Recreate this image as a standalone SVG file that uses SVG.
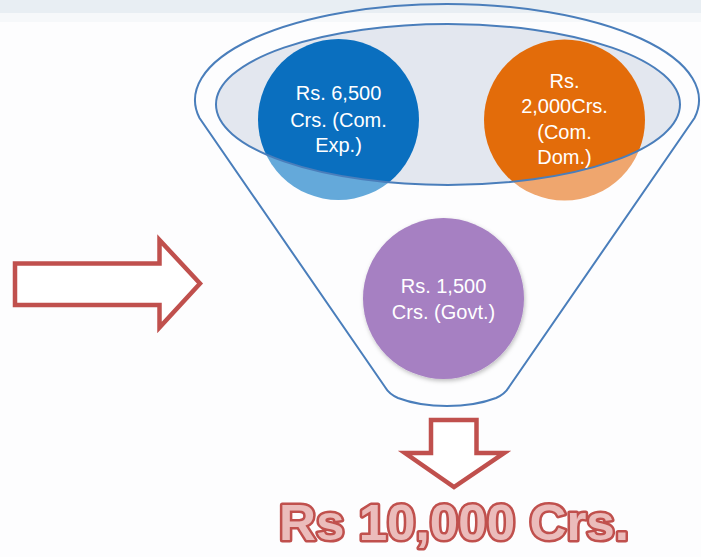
<svg xmlns="http://www.w3.org/2000/svg" width="701" height="557" viewBox="0 0 701 557">
<style>
.lbl{font-family:"Liberation Sans",Arial,sans-serif;font-size:20px;fill:#ffffff;text-anchor:middle}
.arrow{fill:#ffffff;stroke:#c0504d;stroke-width:4.5;stroke-linejoin:miter}
.funnel{fill:none;stroke:#4a7ebb;stroke-width:2}
.total{font-family:"Liberation Sans",Arial,sans-serif;font-weight:bold;font-size:50px;fill:#ebbcbb;stroke:#c0504d;stroke-width:5;paint-order:stroke;stroke-linejoin:round;text-anchor:middle}
</style>
<defs>
<clipPath id="inner"><ellipse cx="448" cy="104.5" rx="232" ry="80.5"/></clipPath>
<filter id="sh" x="-20%" y="-20%" width="140%" height="140%"><feDropShadow dx="1" dy="2" stdDeviation="2" flood-color="#000" flood-opacity="0.25"/></filter>
</defs>
<rect x="0" y="0" width="701" height="557" fill="#fdfdfe"/>
<rect x="0" y="0" width="701" height="13" fill="#e8eef3"/>
<rect x="0" y="13" width="701" height="9" fill="#f6f8fa"/>

<g id="funnel">
<path class="funnel" d="M199.5,118 A252,96 0 1,1 694.5,118 L509,387 Q505,394 496,398 Q475,406 447,406 Q419,406 398,398 Q389,394 385,387 Z"/>
</g>

<g id="circle-exp">
<circle cx="338.5" cy="119.5" r="80.5" fill="#64a9da"/>
</g>
<g id="circle-dom">
<circle cx="564.5" cy="120" r="80.5" fill="#efa66e"/>
</g>
<g id="inner-ellipse">
<ellipse cx="448" cy="104.5" rx="232" ry="80.5" fill="#e3e7ef"/>
<g clip-path="url(#inner)">
<circle cx="338.5" cy="119.5" r="80.5" fill="#0a6fbf"/>
<circle cx="564.5" cy="120" r="80.5" fill="#e36c0a"/>
</g>
<ellipse cx="448" cy="104.5" rx="232" ry="80.5" fill="none" stroke="#4a7ebb" stroke-width="2"/>
</g>
<g id="label-exp">
<text class="lbl" x="338.5" y="100">Rs. 6,500</text>
<text class="lbl" x="338.5" y="126.5">Crs. (Com.</text>
<text class="lbl" x="338.5" y="152">Exp.)</text>
</g>
<g id="label-dom">
<text class="lbl" x="564.5" y="87.5">Rs.</text>
<text class="lbl" x="564.5" y="113">2,000Crs.</text>
<text class="lbl" x="564.5" y="138.5">(Com.</text>
<text class="lbl" x="564.5" y="164">Dom.)</text>
</g>
<g id="circle-govt">
<circle cx="443.5" cy="298.5" r="80.5" fill="#a680c2" filter="url(#sh)"/>
<text class="lbl" x="443.5" y="293">Rs. 1,500</text>
<text class="lbl" x="443.5" y="318.5">Crs. (Govt.)</text>
</g>

<g id="connectors">
<path id="arrow-in" class="arrow" d="M15,263.5 L159.5,263.5 L159.5,240 L200,283.5 L159.5,327.5 L159.5,305 L15,305 Z"/>
<path id="arrow-out" class="arrow" d="M431,420 L476.5,420 L476.5,453 L504,453 L454,487 L405,453 L431,453 Z"/>
</g>

<g id="total">
<text class="total" x="454" y="540" textLength="350" lengthAdjust="spacingAndGlyphs">Rs 10,000 Crs.</text>
</g>
</svg>
